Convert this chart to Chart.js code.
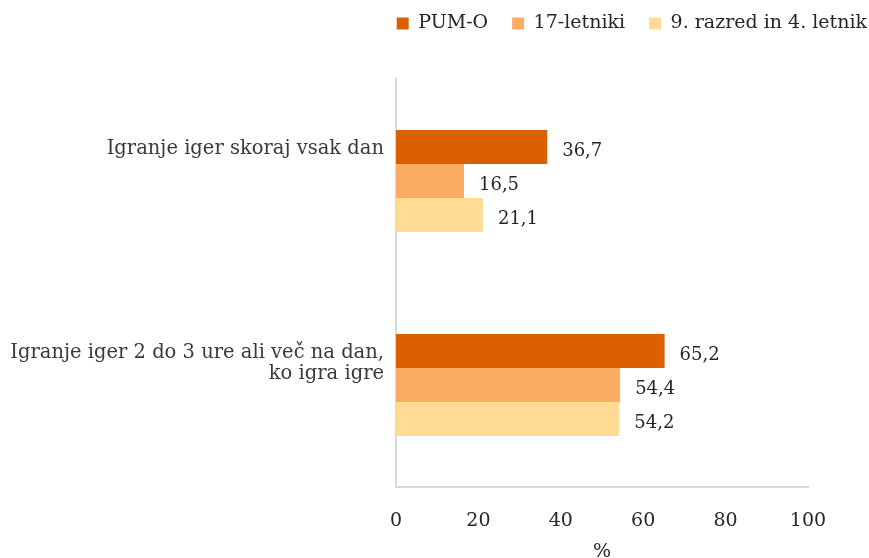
<!DOCTYPE html>
<html>
<head>
<meta charset="utf-8">
<script src="https://cdn.jsdelivr.net/npm/chart.js@4/dist/chart.umd.min.js"></script>
<style>
  html, body { margin: 0; padding: 0; background: #fff; }
  #wrap { width: 869px; height: 558px; position: relative; }
</style>
</head>
<body>
<div id="wrap"><canvas id="chart-gaming"></canvas></div>
<script>
// Categories and series values (blank second line keeps both labels top-aligned)
const categories = [
    ['Igranje iger skoraj vsak dan', ''],
    ['Igranje iger 2 do 3 ure ali več na dan,', 'ko igra igre']
];
const seriesNames = ['PUM-O', '17-letniki', '9. razred in 4. letnik'];
const pumO = [36.7, 65.2];
const letniki17 = [16.5, 54.4];
const razred9 = [21.1, 54.2];
const xTicks = [0, 20, 40, 60, 80, 100];

const colors = ['#dc6000', '#fdad63', '#ffdb93'];
const textColor = '#262626';
const labelColor = '#3a3a3a';
const axisColor = '#d9d9d9';
const fontFamily = "'DejaVu Serif', serif";

Chart.defaults.font.family = fontFamily;
Chart.defaults.font.size = 19;
Chart.defaults.color = textColor;

// Value labels drawn just past the end of each bar
const valueLabels = {
    id: 'valueLabels',
    afterDatasetsDraw(chart) {
        const ctx = chart.ctx;
        ctx.save();
        ctx.font = `18px ${fontFamily}`;
        ctx.fillStyle = textColor;
        ctx.textAlign = 'left';
        ctx.textBaseline = 'middle';
        chart.data.datasets.forEach((ds, i) => {
            chart.getDatasetMeta(i).data.forEach((bar, j) => {
                const label = ds.data[j].toFixed(1).replace('.', ',');
                ctx.fillText(label, bar.x + 15, bar.y + 4);
            });
        });
        ctx.restore();
    }
};

// Extra room below the legend
const legendSpacing = {
    id: 'legendSpacing',
    beforeInit(chart) {
        const fit = chart.legend.fit;
        chart.legend.fit = function () {
            fit.bind(chart.legend)();
            this.height += 36;
        };
    }
};

new Chart(document.getElementById('chart-gaming'), {
    type: 'bar',
    data: {
        labels: categories,
        datasets: [
            { label: seriesNames[0], data: pumO, backgroundColor: colors[0] },
            { label: seriesNames[1], data: letniki17, backgroundColor: colors[1] },
            { label: seriesNames[2], data: razred9, backgroundColor: colors[2] }
        ]
    },
    options: {
        indexAxis: 'y',
        responsive: true,
        maintainAspectRatio: false,
        animation: false,
        layout: { padding: { top: -10, right: -22, bottom: 0, left: 0 } },
        datasets: {
            bar: { categoryPercentage: 0.5, barPercentage: 1.0 }
        },
        plugins: {
            legend: {
                position: 'top',
                align: 'end',
                labels: {
                    boxWidth: 12,
                    boxHeight: 12,
                    padding: 24,
                    color: textColor,
                    font: { family: fontFamily, size: 19 }
                }
            },
            tooltip: { enabled: false }
        },
        scales: {
            x: {
                min: 0,
                max: 100,
                afterBuildTicks: (axis) => { axis.ticks = xTicks.map(v => ({ value: v })); },
                afterFit: (axis) => { axis.height = 71; },
                grid: { display: false, drawTicks: false },
                border: { display: true, color: axisColor, width: 2 },
                ticks: { padding: 23, color: textColor, font: { size: 19 } },
                title: { display: true, text: '%', color: textColor, padding: { top: 4, bottom: -5 }, font: { size: 19 } }
            },
            y: {
                afterFit: (axis) => { axis.width = 396; },
                grid: { display: false, drawTicks: false },
                border: { display: true, color: axisColor, width: 2 },
                ticks: {
                    padding: 12,
                    labelOffset: -22,
                    color: labelColor,
                    font: { size: 19.5, lineHeight: 1.08 }
                }
            },
            // empty right-hand axis that keeps space free beside the plot
            yRight: {
                type: 'linear',
                position: 'right',
                afterFit: (axis) => { axis.width = 83; },
                grid: { display: false, drawTicks: false },
                border: { display: false },
                ticks: { display: false }
            }
        }
    },
    plugins: [valueLabels, legendSpacing]
});
</script>
</body>
</html>
